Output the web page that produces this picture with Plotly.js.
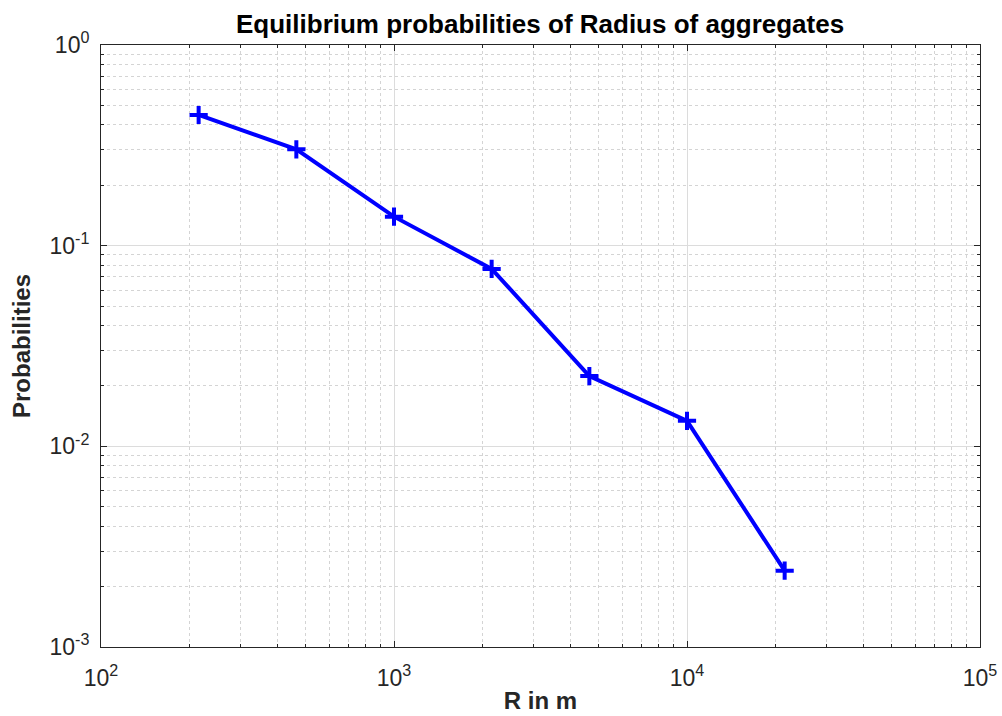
<!DOCTYPE html>
<html>
<head>
<meta charset="utf-8">
<script src="https://cdn.plot.ly/plotly-3.0.1.min.js"></script>
<style>html,body{margin:0;padding:0;background:#fff;}#chart{width:1002px;height:716px;}</style>
</head>
<body>
<div id="chart"></div>
<script>
const radius = [215.4, 464.2, 1000, 2154, 4642, 10000, 21544];
const probabilities = [0.448, 0.302, 0.1395, 0.0766, 0.0224, 0.0134, 0.0024];
const xTickVals = [100, 1000, 10000, 100000];
const xTickText = ['10<sup>2</sup>', '10<sup>3</sup>', '10<sup>4</sup>', '10<sup>5</sup>'];
const yTickVals = [0.001, 0.01, 0.1, 1];
const yTickText = ['10<sup>-3</sup>', '10<sup>-2</sup>', '10<sup>-1</sup>', '10<sup>0</sup>'];

const FONT = 'Liberation Sans, Arial, Helvetica, sans-serif';

const trace = {
  x: radius,
  y: probabilities,
  type: 'scatter',
  mode: 'lines+markers',
  line: {color: '#0000ff', width: 4},
  marker: {symbol: 'cross-thin', size: 13, color: '#0000ff', line: {color: '#0000ff', width: 4}},
  hoverinfo: 'x+y'
};

const axisCommon = {
  type: 'log',
  tickmode: 'array',
  showline: true,
  linecolor: '#262626',
  linewidth: 1,
  mirror: 'allticks',
  ticks: 'inside',
  ticklen: 6,
  tickcolor: '#262626',
  showgrid: true,
  gridcolor: '#dcdcdc',
  gridwidth: 1,
  zeroline: false,
  tickfont: {family: FONT, size: 23, color: '#262626'},
  minor: {
    dtick: 'D1',
    ticks: 'inside',
    ticklen: 3,
    tickcolor: '#262626',
    showgrid: true,
    gridcolor: '#d4d4d4',
    griddash: 'dot',
    gridwidth: 1
  }
};

const layout = {
  width: 1002,
  height: 716,
  paper_bgcolor: '#ffffff',
  plot_bgcolor: '#ffffff',
  margin: {l: 101, r: 22, t: 45, b: 69},
  showlegend: false,
  title: {
    text: '<b>Equilibrium probabilities of Radius of aggregates</b>',
    font: {family: FONT, size: 26, color: '#000000'},
    x: 0.539, xanchor: 'center', y: 0.967, yanchor: 'middle'
  },
  xaxis: Object.assign({}, axisCommon, {
    range: [2, 5],
    tickvals: xTickVals,
    ticktext: xTickText,
    ticklabelstandoff: 10,
    title: {text: '<b>R in m</b>', font: {family: FONT, size: 24, color: '#262626'}, standoff: 2}
  }),
  yaxis: Object.assign({}, axisCommon, {
    range: [-3, 0],
    tickvals: yTickVals,
    ticktext: yTickText,
    ticklabelstandoff: 6,
    title: {text: '<b>Probabilities</b>', font: {family: FONT, size: 24, color: '#262626'}, standoff: 12}
  })
};

Plotly.newPlot('chart', [trace], layout, {displayModeBar: false, staticPlot: true});
</script>
</body>
</html>
